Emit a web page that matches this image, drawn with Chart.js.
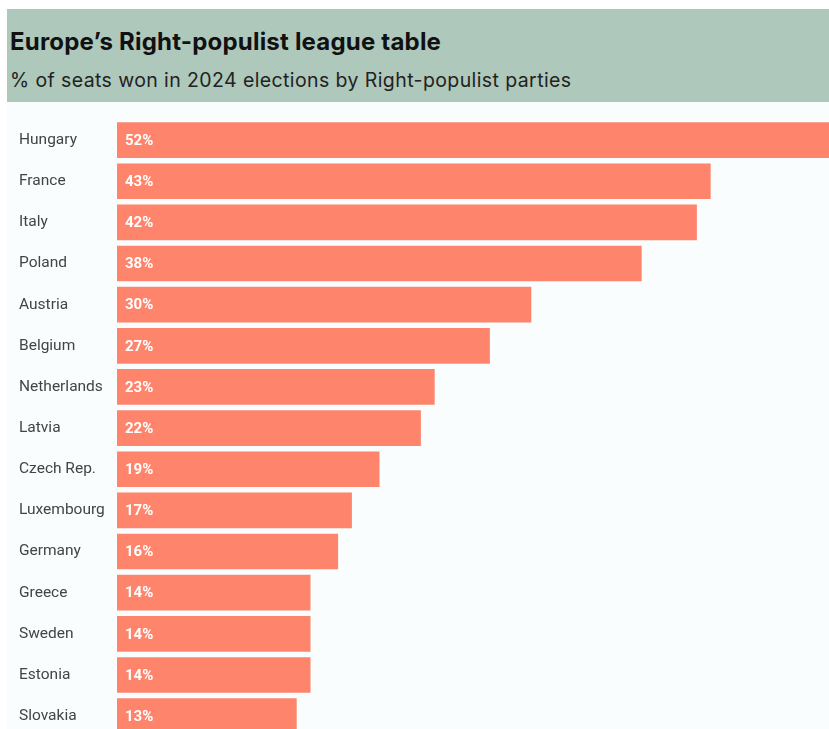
<!DOCTYPE html>
<html lang="en">
<head>
  <meta charset="UTF-8" />
  <title>Europe's Right-populist league table</title>
  <script src="https://cdn.jsdelivr.net/npm/chart.js"></script>
  <style>
    * {
      box-sizing: border-box;
    }
    body {
      margin: 0;
      width: 829px;
      height: 729px;
      overflow: hidden;
      background: #ffffff;
      font-family: Inter, sans-serif;
      position: relative;
    }
    .header {
      position: absolute;
      left: 7px;
      top: 9px;
      width: 822px;
      height: 93px;
      background: #aec8bb;
    }
    .header h1 {
      margin: 0;
      position: absolute;
      left: 3px;
      top: 18px;
      font-size: 24px;
      line-height: 30px;
      font-weight: 700;
      letter-spacing: 0.2px;
      color: #111;
    }
    .header p {
      margin: 0;
      position: absolute;
      left: 3px;
      top: 59px;
      font-size: 19.5px;
      line-height: 24px;
      letter-spacing: 0.4px;
      color: #222;
    }
    .chart-box {
      position: absolute;
      left: 7px;
      top: 102px;
      width: 822px;
      height: 647px;
      background: #f9fdfd;
    }
  </style>
</head>
<body>

<div class="header">
  <h1>Europe’s Right-populist league table</h1>
  <p>% of seats won in 2024 elections by Right-populist parties</p>
</div>

<div class="chart-box">
  <canvas id="leagueChart" width="822" height="647"></canvas>
</div>

<script>
  const countries = ['Hungary', 'France', 'Italy', 'Poland', 'Austria', 'Belgium', 'Netherlands',
    'Latvia', 'Czech Rep.', 'Luxembourg', 'Germany', 'Greece', 'Sweden', 'Estonia', 'Slovakia'];
  const seatShare = [52, 43, 42, 38, 30, 27, 23, 22, 19, 17, 16, 14, 14, 14, 13];

  // white value labels just inside the left end of each bar
  const valueLabels = {
    id: 'valueLabels',
    afterDatasetsDraw(chart) {
      const ctx = chart.ctx;
      const meta = chart.getDatasetMeta(0);
      ctx.save();
      ctx.fillStyle = '#ffffff';
      ctx.font = 'bold 15px Roboto, sans-serif';
      ctx.textBaseline = 'middle';
      ctx.textAlign = 'left';
      meta.data.forEach((bar, i) => {
        ctx.fillText(seatShare[i] + '%', bar.base + 8, bar.y + 1);
      });
      ctx.restore();
    }
  };

  new Chart(document.getElementById('leagueChart'), {
    type: 'bar',
    data: {
      labels: countries,
      datasets: [{
        data: seatShare,
        backgroundColor: '#fe846c',
        borderWidth: 0,
        barThickness: 35
      }]
    },
    options: {
      indexAxis: 'y',
      responsive: false,
      animation: false,
      layout: {
        padding: { left: 12, top: 17.5, right: 0, bottom: 0 }
      },
      plugins: {
        legend: { display: false },
        tooltip: { enabled: false }
      },
      scales: {
        x: {
          display: false,
          min: 0,
          max: 51.6
        },
        y: {
          grid: { display: false },
          border: { display: false },
          afterFit(scale) {
            scale.width = 98;
          },
          ticks: {
            crossAlign: 'far',
            color: '#444',
            font: { family: 'Roboto', size: 15.5 }
          }
        }
      }
    },
    plugins: [valueLabels]
  });
</script>

</body>
</html>
